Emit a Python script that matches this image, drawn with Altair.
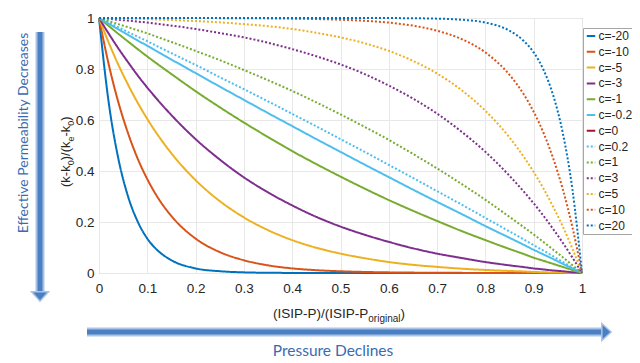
import altair as alt
import pandas as pd

# ---------------- data ----------------
x_grid = [0, 0.02, 0.04, 0.06, 0.08, 0.1, 0.12, 0.15, 0.2, 0.25, 0.3, 0.35, 0.4, 0.45,
          0.5, 0.55, 0.6, 0.65, 0.7, 0.75, 0.8, 0.85, 0.88, 0.9, 0.92, 0.94, 0.96, 0.98, 1]

y_m20 = [1, .670, .449, .301, .202, .135, .091, .050, .018, .007, .0025, .0009, .0003,
         0, 0, 0, 0, 0, 0, 0, 0, 0, 0, 0, 0, 0, 0, 0, 0]
y_m10 = [1, .819, .670, .549, .449, .368, .301, .223, .135, .082, .050, .030, .018, .011,
         .0067, .0041, .0025, .0015, .0009, .0005, .0003, .0002, .0001, .0001, 0, 0, 0, 0, 0]
y_m5 = [1, .904, .817, .739, .668, .604, .546, .469, .364, .282, .218, .168, .129, .099,
        .076, .058, .043, .032, .024, .017, .012, .008, .006, .004, .003, .002, .0015, .0007, 0]
y_m3 = [1, .939, .881, .827, .775, .727, .682, .619, .525, .445, .375, .316, .265, .220,
        .182, .150, .122, .097, .076, .059, .043, .030, .023, .018, .014, .010, .007, .003, 0]
y_m1 = [1, .969, .938, .908, .878, .849, .821, .780, .713, .650, .590, .533, .478, .427,
        .378, .331, .286, .244, .204, .165, .129, .094, .074, .060, .048, .036, .024, .012, 0]
y_m02 = [1, .978, .956, .934, .912, .891, .869, .837, .784, .731, .679, .627, .576, .525,
         .475, .425, .376, .327, .279, .232, .184, .138, .110, .091, .073, .055, .036, .018, 0]
y_0 = []  # c=0 is not drawn in the figure (legend entry only)
y_p02 = [1, .982, .964, .945, .927, .909, .890, .862, .816, .768, .721, .673, .624, .575,
         .525, .475, .424, .373, .321, .269, .216, .163, .131, .109, .088, .066, .044, .022, 0]
y_p1 = [1, .988, .976, .964, .952, .940, .926, .906, .871, .835, .796, .756, .714, .669,
        .622, .573, .522, .467, .410, .350, .287, .220, .179, .151, .122, .092, .062, .031, 0]
y_p3 = [1, .997, .993, .990, .986, .982, .977, .970, .957, .941, .924, .903, .878, .850,
        .818, .780, .735, .684, .625, .555, .475, .381, .318, .273, .225, .173, .119, .061, 0]
y_p5 = [1, .9993, .9985, .998, .997, .996, .994, .992, .988, .983, .976, .968, .957, .942,
        .924, .901, .871, .832, .782, .718, .636, .531, .454, .396, .332, .261, .183, .096, 0]
y_p10 = [1, 1, 1, 1, 1, .9999, .9998, .9998, .9997, .9995, .9991, .9985, .9975, .9959,
         .9933, .989, .982, .970, .950, .918, .865, .777, .699, .632, .551, .451, .330, .181, 0]
y_p20 = [1, 1, 1, 1, 1, 1, 1, 1, 1, 1, 1, 1, 1, 1,
         1, 1, .9997, .9991, .9975, .9933, .982, .950, .909, .865, .798, .699, .551, .330, 0]

labels = ["c=-20", "c=-10", "c=-5", "c=-3", "c=-1", "c=-0.2", "c=0",
          "c=0.2", "c=1", "c=3", "c=5", "c=10", "c=20"]
series = [y_m20, y_m10, y_m5, y_m3, y_m1, y_m02, y_0,
          y_p02, y_p1, y_p3, y_p5, y_p10, y_p20]
colors = ["#0072BD", "#D95319", "#EDB120", "#7E2F8E", "#77AC30", "#4DBEEE", "#A2142F",
          "#4DBEEE", "#77AC30", "#7E2F8E", "#EDB120", "#D95319", "#0072BD"]
dashes = [[1, 0]] * 7 + [[2, 2]] * 6

x_ticks = [0, 0.1, 0.2, 0.3, 0.4, 0.5, 0.6, 0.7, 0.8, 0.9, 1]
y_ticks = [0, 0.2, 0.4, 0.6, 0.8, 1]

rows = []
for lab, ys in zip(labels, series):
    for i, yv in enumerate(ys):
        rows.append({"x": x_grid[i], "y": yv, "c": lab, "o": i})
df = pd.DataFrame(rows)

one = pd.DataFrame({"k": [0]})

W, H = 483, 255
FONT = "Liberation Sans"
DECO = "#3A6BB0"
ARW_D = "#4a7fc1"
ARW_L = "#a9c4e8"

leg = alt.Legend(
    title=None, orient="none", legendX=484, legendY=10,
    symbolType="stroke", symbolSize=72, symbolStrokeWidth=2,
    labelFont=FONT, labelFontSize=12, labelColor="#262626",
    labelOffset=1.5, rowPadding=3.8, padding=2,
    strokeColor="#a6a6a6", fillColor="white", cornerRadius=0,
)

lines = alt.Chart(df).mark_line(strokeWidth=2, interpolate="monotone").encode(
    x=alt.X("x:Q", scale=alt.Scale(domain=[0, 1], nice=False),
            axis=alt.Axis(values=x_ticks, format="~g", labelPadding=8,
                          labelFlush=False, title=None)),
    y=alt.Y("y:Q", scale=alt.Scale(domain=[0, 1], nice=False),
            axis=alt.Axis(values=y_ticks, format="~g", labelPadding=5,
                          labelFlush=False, title=None)),
    color=alt.Color("c:N", scale=alt.Scale(domain=labels, range=colors), legend=leg),
    strokeDash=alt.StrokeDash("c:N", scale=alt.Scale(domain=labels, range=dashes), legend=leg),
    order="o:Q",
)


def txt(s, x, y, size=13, dx=0, dy=0, angle=0, align="left", font=FONT, color="#262626"):
    kw = dict(font=font, fontSize=size, align=align, baseline="alphabetic",
              color=color, dx=dx, dy=dy)
    if angle:
        kw["angle"] = angle
    return alt.Chart(one).mark_text(**kw).encode(
        x=alt.value(x), y=alt.value(y), text=alt.value(s))


# y-axis title (k-k0)/(ke-k0) with subscripts, rotated
YX, YY = -29, 169
ytitle = [
    txt("(k-k", YX, YY, 13, dx=0, angle=270),
    txt("0", YX, YY, 9, dx=21.7, dy=3.5, angle=270),
    txt(")/(k", YX, YY, 13, dx=26.7, angle=270),
    txt("e", YX, YY, 9, dx=45.5, dy=3.5, angle=270),
    txt("-k", YX, YY, 13, dx=50.5, angle=270),
    txt("0", YX, YY, 9, dx=61.3, dy=3.5, angle=270),
    txt(")", YX, YY, 13, dx=66.3, angle=270),
]

# x-axis title (ISIP-P)/(ISIP-P_original)
XX, XY = 174, 300
xtitle = [
    txt("(ISIP-P)/(ISIP-P", XX, XY, 13.5, dx=0),
    txt("original", XX, XY, 10, dx=95.3, dy=4),
    txt(")", XX, XY, 13.5, dx=127.5),
]

# decorative arrows
def rule(x, x2, y, y2, w, col):
    return alt.Chart(one).mark_rule(strokeWidth=w, color=col).encode(
        x=alt.value(x), x2=alt.value(x2), y=alt.value(y), y2=alt.value(y2))


def head(x, y, path):
    return alt.Chart(one).mark_point(shape=path, filled=True, size=289, fill=ARW_D,
                                     stroke=ARW_L, strokeWidth=1.5, opacity=1).encode(
        x=alt.value(x), y=alt.value(y))


arrows = [
    rule(-59, -59, 14, 275, 9, ARW_L),
    rule(-59, -59, 14, 275, 5, ARW_D),
    head(-59, 278.5, "M-1,-0.55L1,-0.55L0,0.55Z"),
    rule(-12, 504, 314, 314, 9, ARW_L),
    rule(-12, 504, 314, 314, 5, ARW_D),
    head(507.5, 314, "M-0.55,-1L0.55,0L-0.55,1Z"),
]

deco = [
    txt("Effective Permeability Decreases", -71, 115, 14, angle=270, align="center",
        font="Lato", color=DECO),
    txt("Pressure Declines", 234, 338, 15.5, align="center", font="Lato", color=DECO),
]

chart = alt.layer(lines, *ytitle, *xtitle, *arrows, *deco).properties(
    width=W, height=H,
    autosize=alt.AutoSizeParams(type="none"),
    padding={"left": 91, "top": 10, "right": 50, "bottom": 86},
).configure_view(
    stroke="#8c8c8c", strokeWidth=1
).configure_axis(
    grid=True, gridColor="#e8e8e8", gridWidth=1, domain=False, ticks=False,
    labelFont=FONT, labelFontSize=13.5, labelColor="#262626",
)

chart.save("out.html", embed_options={"renderer": "svg", "actions": False})
